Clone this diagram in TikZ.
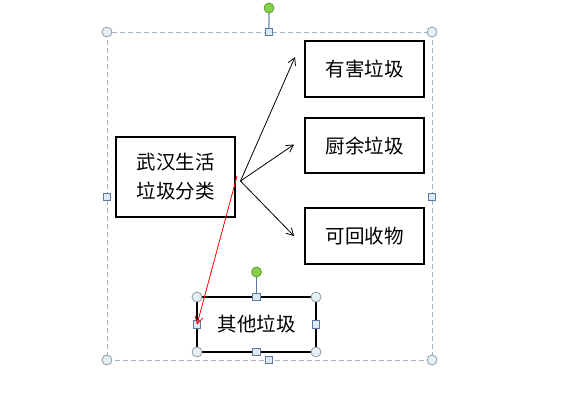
\documentclass[tikz,border=0pt]{standalone}
\usepackage{fontspec}
\newfontfamily\cjk{Noto Sans CJK SC}
\usetikzlibrary{arrows.meta}
\definecolor{canvasline}{HTML}{9FB3C8}
\definecolor{hcircfill}{HTML}{E6F0F4}
\definecolor{hcircdraw}{HTML}{8C9CAA}
\definecolor{hsqfill}{HTML}{DCE8F4}
\definecolor{hsqdraw}{HTML}{5A7AA0}
\definecolor{gfill}{HTML}{86D044}
\definecolor{gdraw}{HTML}{5E9A34}
\begin{document}
\begin{tikzpicture}[x=1pt,y=-1pt,
  box/.style={draw=black, line width=2pt, minimum width=119pt, inner sep=0pt, outer sep=0pt,
              font=\cjk\fontsize{19.5}{29}\selectfont, align=center},
  conn/.style={line width=0.8pt, -{Straight Barb[length=7pt,width=8pt]}},
  hcirc/.style={circle, draw=hcircdraw, fill=hcircfill, line width=0.8pt, minimum size=10pt, inner sep=0pt},
  hsq/.style={rectangle, draw=hsqdraw, fill=hsqfill, line width=0.8pt, minimum size=7.5pt, inner sep=0pt},
  hgreen/.style={circle, draw=gdraw, fill=gfill, line width=0.8pt, minimum size=10pt, inner sep=0pt},
  canvas/.style={draw=canvasline, line width=0.9pt, dash pattern=on 5pt off 3pt}
]
\useasboundingbox (0,0) rectangle (577,400);
% drawing canvas
\coordinate (cnw) at (107,32);
\coordinate (cse) at (432,360);
\draw[canvas] (cnw) rectangle (cse);
% boxes
\node[box, minimum height=56pt] (harm) at (364.5,69) {有害垃圾};
\node[box, minimum height=55pt] (kitchen) at (364.5,145.5) {厨余垃圾};
\node[box, minimum height=56pt] (recycle) at (364.5,236) {可回收物};
\node[box, minimum height=80pt] (main) at (175.5,177) {武汉生活\\垃圾分类};
\node[box, minimum height=55pt] (other) at (256.5,324.5) {其他垃圾};
% connectors
\coordinate (fork) at (240.5,181);
\coordinate (t1) at (295,57);
\coordinate (t2) at (294,144.5);
\coordinate (t3) at (294,236);
\coordinate (rs) at (237,176);
\draw[conn] (fork) -- (t1);
\draw[conn] (fork) -- (t2);
\draw[conn] (fork) -- (t3);
% canvas handles
\draw[canvasline, line width=1.2pt] (269,8) -- (269,32);
\node[hgreen] (cg) at (269,8) {};
\node[hcirc] (c1) at (107,32) {};
\node[hcirc] (c2) at (432,32) {};
\node[hcirc] (c3) at (107,360) {};
\node[hcirc] (c4) at (432,360) {};
\node[hsq] (s1) at (269,32) {};
\node[hsq] (s2) at (269,360) {};
\node[hsq] (s3) at (107,197) {};
\node[hsq] (s4) at (432,197) {};
% selected shape handles
\draw[hsqdraw, line width=1pt] (256.5,272) -- (other.north);
\node[hgreen] (og) at (256.5,272) {};
\node[hcirc] (o1) at (other.north west) {};
\node[hcirc] (o2) at (other.north east) {};
\node[hcirc] (o3) at (other.south west) {};
\node[hcirc] (o4) at (other.south east) {};
\node[hsq] (o5) at (other.north) {};
\node[hsq] (o6) at (other.south) {};
\node[hsq] (o7) at (other.west) {};
\node[hsq] (o8) at (other.east) {};
% red connector
\draw[conn, red] (rs) -- (other.west);
\end{tikzpicture}
\end{document}
